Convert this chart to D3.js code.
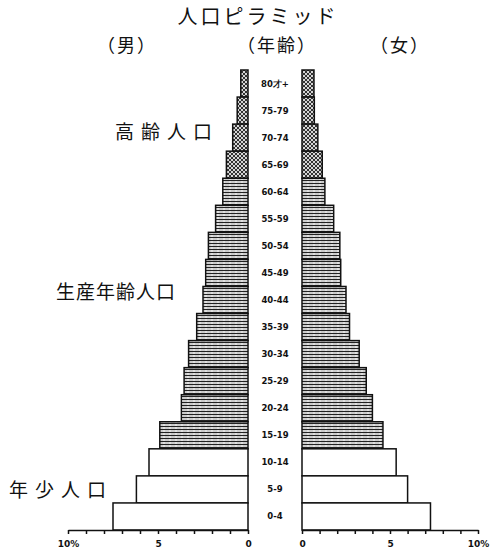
<!DOCTYPE html>
<html>
<head>
<meta charset="utf-8">
<script src="https://cdn.jsdelivr.net/npm/d3@7"></script>
<style>
  body { margin: 0; background: #fff; }
  svg { display: block; }
  .jp { font-family: "Noto Sans CJK JP", sans-serif; fill: #111; }
  .age { font-family: "DejaVu Sans", sans-serif; font-weight: bold; font-size: 8.5px; fill: #111; }
  .axis text { font-family: "DejaVu Sans", sans-serif; font-weight: bold; font-size: 9px; fill: #111; }
  .axis path, .axis line { stroke: #111; stroke-width: 1.5; }
</style>
</head>
<body>
<div id="chart"></div>
<script>
/* DATA */
// age groups from top to bottom
const ages = ["80才+", "75-79", "70-74", "65-69", "60-64", "55-59", "50-54", "45-49",
  "40-44", "35-39", "30-34", "25-29", "20-24", "15-19", "10-14", "5-9", "0-4"];
// percentage of total population
const male = [0.4, 0.6, 0.85, 1.2, 1.4, 1.8, 2.2, 2.35, 2.5, 2.85, 3.3, 3.55, 3.7, 4.9, 5.5, 6.2, 7.5];
const female = [0.68, 0.7, 0.9, 1.15, 1.3, 1.8, 2.15, 2.2, 2.5, 2.7, 3.25, 3.65, 4.0, 4.6, 5.35, 6.0, 7.3];
// 0 = elderly, 1 = working age, 2 = young
const group = [0, 0, 0, 0, 1, 1, 1, 1, 1, 1, 1, 1, 1, 1, 2, 2, 2];
const xTicks = [0, 1, 2, 3, 4, 5, 6, 7, 8, 9, 10];

const width = 495, height = 553;

const svg = d3.select("#chart").append("svg")
  .attr("width", width)
  .attr("height", height);

/* PATTERNS */
const defs = svg.append("defs");
const hatch = defs.append("pattern")
  .attr("id", "old")
  .attr("patternUnits", "userSpaceOnUse")
  .attr("width", 4).attr("height", 4);
hatch.append("rect").attr("width", 4).attr("height", 4).attr("fill", "#333");
hatch.append("path").attr("d", "M0,4 L4,0 M0,0 L4,4").attr("stroke", "#fff").attr("stroke-width", 0.8);

const lines = defs.append("pattern")
  .attr("id", "work")
  .attr("patternUnits", "userSpaceOnUse")
  .attr("width", 6).attr("height", 3);
lines.append("rect").attr("width", 6).attr("height", 3).attr("fill", "#ccc");
lines.append("path").attr("d", "M0,0.5 L6,0.5").attr("stroke", "#222").attr("stroke-width", 1);
lines.append("path").attr("d", "M1,2 L3,2").attr("stroke", "#fff").attr("stroke-width", 0.8);

const fills = ["url(#old)", "url(#work)", "#fff"];

/* SCALES */
const yScale = d3.scaleBand()
  .domain(ages)
  .range([70, 530])
  .padding(0);

const xLeft = d3.scaleLinear().domain([0, 10]).range([248, 68]);
const xRight = d3.scaleLinear().domain([0, 10]).range([302, 478]);

const rows = ages.map((a, i) => ({ age: a, m: male[i], f: female[i], g: group[i] }));

/* BARS */
svg.append("g").selectAll("rect")
  .data(rows)
  .join("rect")
  .attr("x", d => xLeft(d.m))
  .attr("y", d => yScale(d.age))
  .attr("width", d => xLeft(0) - xLeft(d.m))
  .attr("height", yScale.bandwidth())
  .attr("fill", d => fills[d.g])
  .attr("stroke", "#111")
  .attr("stroke-width", 1.5);

svg.append("g").selectAll("rect")
  .data(rows)
  .join("rect")
  .attr("x", xRight(0))
  .attr("y", d => yScale(d.age))
  .attr("width", d => xRight(d.f) - xRight(0))
  .attr("height", yScale.bandwidth())
  .attr("fill", d => fills[d.g])
  .attr("stroke", "#111")
  .attr("stroke-width", 1.5);

// age labels
svg.append("g").selectAll("text")
  .data(rows)
  .join("text")
  .attr("class", "age")
  .attr("x", 275)
  .attr("y", d => yScale(d.age) + yScale.bandwidth() / 2)
  .attr("dy", "0.35em")
  .attr("text-anchor", "middle")
  .text(d => d.age);

/* AXES */
const fmt = d => d === 10 ? "10%" : (d % 5 === 0 ? d : "");

svg.append("g")
  .attr("class", "axis")
  .attr("transform", "translate(0,530)")
  .call(d3.axisBottom(xLeft).tickValues(xTicks).tickFormat(fmt).tickSize(4).tickSizeOuter(0))
  .call(g => g.selectAll("text").attr("dy", "1.1em"));

svg.append("g")
  .attr("class", "axis")
  .attr("transform", "translate(0,530)")
  .call(d3.axisBottom(xRight).tickValues(xTicks).tickFormat(fmt).tickSize(4).tickSizeOuter(0))
  .call(g => g.selectAll("text").attr("dy", "1.1em"));

/* TITLES */
svg.append("text")
  .attr("class", "jp")
  .attr("x", 258).attr("y", 24)
  .attr("text-anchor", "middle")
  .attr("font-size", 20)
  .attr("letter-spacing", 3)
  .text("人口ピラミッド");

const heads = [
  { t: "（男）", x: 127 },
  { t: "（年齢）", x: 277 },
  { t: "（女）", x: 400 }
];
svg.append("g").selectAll("text")
  .data(heads)
  .join("text")
  .attr("class", "jp")
  .attr("x", d => d.x).attr("y", 52)
  .attr("text-anchor", "middle")
  .attr("font-size", 18)
  .attr("letter-spacing", 2)
  .text(d => d.t);

const notes = [
  { t: "高齢人口", x: 115, y: 139, ls: 7 },
  { t: "生産年齢人口", x: 56, y: 299, ls: 1 },
  { t: "年少人口", x: 9, y: 497, ls: 7 }
];
svg.append("g").selectAll("text")
  .data(notes)
  .join("text")
  .attr("class", "jp")
  .attr("x", d => d.x).attr("y", d => d.y)
  .attr("font-size", 19)
  .attr("letter-spacing", d => d.ls)
  .text(d => d.t);
</script>
</body>
</html>
